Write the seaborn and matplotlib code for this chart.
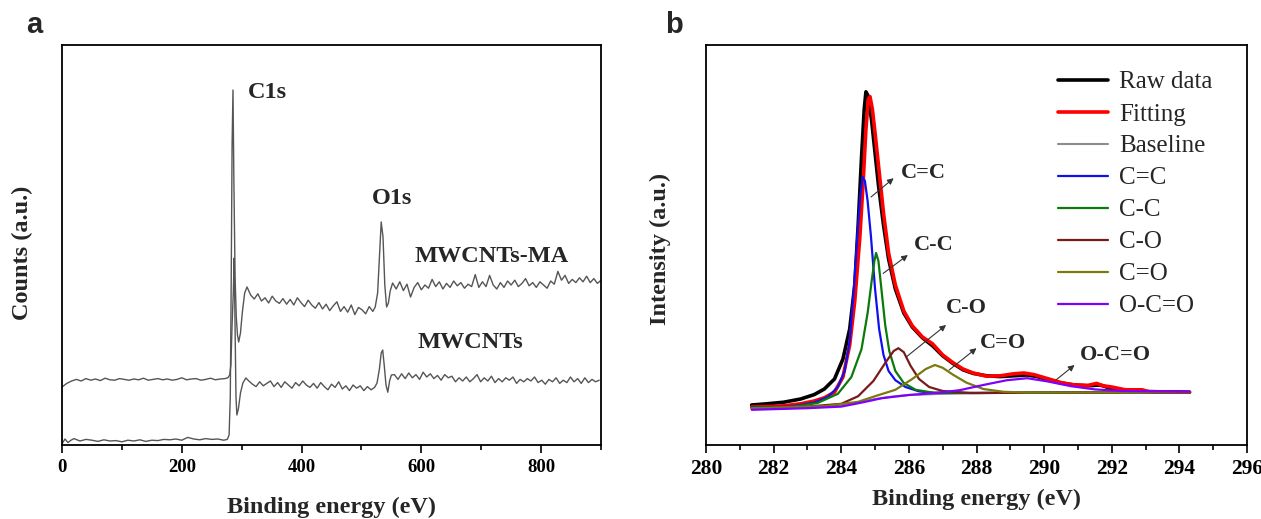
import numpy as np
import seaborn as sns
import matplotlib.pyplot as plt

# ---- panel a: survey spectra (y in arbitrary units, 0-100) ----
ma_flat_x = [0, 5, 10, 15, 20, 30, 40, 50, 60, 70, 80, 90, 100, 110, 120, 130, 140, 150,
             160, 170, 180, 190, 200, 210, 220, 230, 240, 250, 260, 270]
ma_flat_y = [0.3, 1.5, 0.6, 1.2, 1.6, 1.0, 1.4, 1.2, 0.9, 1.3, 1.0, 1.1, 0.8, 1.2, 1.0, 1.3,
             0.9, 1.2, 1.1, 1.4, 1.3, 1.5, 1.2, 1.9, 1.5, 1.3, 1.6, 1.4, 1.5, 1.2]
ma_c1s_x = [276, 279, 281, 282.5, 284, 285.5, 287, 289, 291, 293, 295, 298, 301, 305, 309]
ma_c1s_y = [1.4, 2.5, 12, 40, 75, 88.75, 66, 42, 32, 27.5, 25.75, 28, 33, 38, 39.5]
ma_noise1_y = [37.5, 36.5, 37.8, 36.0, 36.8, 35.5, 37.2, 36.0, 35.4, 36.6, 35.2, 36.4, 35.0,
               36.8, 35.6, 34.6, 36.2, 35.0, 34.2, 35.6, 34.0, 35.2, 33.6, 34.8, 35.8, 33.4,
               34.6, 33.2, 35.0, 32.6, 34.4, 33.8, 32.8, 34.6, 33.4]
ma_o1s_x = [523, 527, 530, 533, 536, 539, 542, 545, 548]
ma_o1s_y = [34.5, 38, 47, 55.75, 52, 40, 34.5, 35.5, 38.5]
ma_noise2_y = [40.5, 39.0, 40.8, 38.6, 40.2, 37.0, 39.4, 40.6, 38.8,
               40.0, 39.2, 41.4, 39.6, 40.8, 39.0, 40.4, 39.4, 41.0, 39.8,
               40.6, 39.2, 40.2, 39.6, 42.6, 39.4, 40.8, 39.6, 42.4, 40.0,
               39.0, 40.6, 39.4, 41.0, 40.0, 41.2, 39.6, 40.4, 41.6, 39.8,
               40.6, 39.4, 40.8, 40.0, 39.2, 41.0, 40.2, 43.4, 41.2, 42.4,
               40.4, 41.4, 40.6, 41.8, 40.8, 42.2, 40.6, 41.6, 40.4, 41.2]

cn_flat_y = [14.5, 15.4, 16.0, 16.4, 16.0, 16.6, 16.2, 16.5, 16.1, 16.7, 16.3, 16.2, 16.6,
             16.4, 16.2, 16.5, 16.3, 16.7, 16.2, 16.4, 16.6, 16.3, 16.5, 16.2, 16.4, 16.8,
             16.3, 16.5, 16.6, 16.2, 16.4, 16.7, 16.3, 16.5, 16.6]
cn_c1s_x = [277, 280, 282, 284, 286, 287.5, 289, 290.5, 292, 294.5, 298, 302, 307]
cn_c1s_y = [16.8, 17.5, 20, 30, 38, 46.75, 30, 12, 7.5, 9, 13, 15.5, 16.75]
cn_noise1_y = [16.0, 15.2, 14.6, 15.8, 14.8, 15.4, 16.0, 14.6, 15.6, 14.4,
               15.8, 15.0, 14.2, 15.6, 14.8, 16.0, 15.0, 14.4, 15.4, 14.2,
               15.6, 14.6, 13.8, 15.2, 14.4, 15.8, 14.0, 14.8, 13.6, 15.0,
               14.2, 14.8, 13.6, 14.6, 13.8, 14.4]
cn_o1s_x = [526, 530, 533, 535.5, 538, 541, 544, 547, 550]
cn_o1s_y = [15.5, 19, 23.0, 23.75, 20, 15, 13.2, 16, 17.5]
cn_noise2_y = [17.6, 16.4, 17.8, 16.6, 18.0, 16.8, 17.6, 16.4, 18.2, 17.0,
               17.8, 16.6, 17.4, 16.2, 17.6, 16.8, 17.2, 15.8, 16.8, 16.0,
               17.0, 15.8, 16.6, 17.6, 15.8, 16.8, 16.0, 17.2, 15.6, 16.6,
               15.8, 16.8, 16.2, 17.0, 15.4, 16.4, 15.8, 16.6, 16.0, 17.0,
               15.6, 16.2, 15.2, 16.4, 15.8, 16.8, 15.4, 16.2, 15.6, 17.0,
               15.8, 16.6, 15.4, 16.8, 15.6, 16.4, 15.8, 16.2]

# ---- panel b: C1s high resolution ----
raw_x = [281.35, 281.8, 282.3, 282.8, 283.2, 283.5, 283.8, 284.05, 284.25, 284.4, 284.5,
         284.6, 284.68, 284.73, 284.8, 284.9, 285.0, 285.1, 285.25, 285.4, 285.6, 285.85,
         286.1, 286.4, 286.7, 287.0, 287.3, 287.6, 287.9, 288.3, 288.7, 289.1, 289.5,
         289.8, 290.1, 290.5, 290.9, 291.3, 291.65, 292.0, 292.4, 292.9, 293.4, 293.9, 294.3]
raw_y = [10.0, 10.3, 10.7, 11.5, 12.6, 14.0, 16.5, 21.5, 29, 40, 55, 72, 84, 88.3, 87.2,
         81, 73, 65, 55, 46.5, 39, 33, 29.5, 26.8, 24.8, 22.3, 20.4, 18.8, 17.9, 17.3,
         17.1, 17.3, 17.5, 17.1, 16.3, 15.5, 15.0, 14.8, 15.0, 14.1, 13.7, 13.4, 13.3,
         13.3, 13.2]
fit_x = [281.35, 281.8, 282.3, 282.8, 283.2, 283.5, 283.8, 284.05, 284.25, 284.4, 284.55,
         284.65, 284.73, 284.8, 284.85, 284.92, 285.0, 285.1, 285.25, 285.4, 285.6, 285.85,
         286.1, 286.4, 286.7, 287.0, 287.3, 287.6, 287.9, 288.3, 288.7, 289.1, 289.4,
         289.7, 290.1, 290.5, 290.9, 291.3, 291.55, 291.75, 292.0, 292.4, 292.9, 293.1,
         293.9, 294.3]
fit_y = [9.5, 9.6, 9.8, 10.3, 11.0, 11.8, 13.2, 17, 25, 36, 52, 66, 79, 86.5, 87.1, 84,
         78, 70, 58, 48, 40, 33.5, 29.8, 27.0, 25.3, 22.5, 20.6, 19.0, 18.0, 17.2, 17.3,
         17.8, 18.0, 17.6, 16.6, 15.6, 15.0, 14.9, 15.4, 14.8, 14.5, 13.8, 13.8, 13.3,
         13.2, 13.2]
base_x = [281.35, 282.5, 283.5, 284.2, 284.6, 285.0, 285.5, 286.0, 287.0, 288.0, 290.0,
          292.0, 294.3]
base_y = [9.3, 9.4, 9.7, 10.1, 10.8, 11.5, 12.1, 12.5, 12.8, 13.0, 13.1, 13.2, 13.3]
cc2_x = [281.35, 282.5, 283.2, 283.6, 283.9, 284.1, 284.25, 284.38, 284.48, 284.57, 284.63,
         284.7, 284.78, 284.88, 285.0, 285.12, 285.25, 285.4, 285.6, 285.9, 286.3, 286.8,
         288.0, 294.3]
cc2_y = [9.4, 9.6, 10.6, 12.0, 14.5, 18.5, 26, 40, 53, 63, 67, 66, 61, 52, 39, 29, 22.5,
         18.5, 16.2, 14.5, 13.4, 13.0, 13.0, 13.3]
cc1_x = [281.35, 282.5, 283.3, 283.9, 284.3, 284.6, 284.78, 284.9, 284.98, 285.03, 285.1,
         285.2, 285.3, 285.42, 285.6, 285.85, 286.2, 286.7, 288.0, 294.3]
cc1_y = [9.3, 9.5, 10.5, 12.8, 17, 24, 33, 41, 46, 48, 46, 38, 30, 23.5, 18.5, 15.5, 13.8,
         13.1, 13.0, 13.2]
co1_x = [281.35, 283.0, 284.0, 284.5, 284.95, 285.3, 285.55, 285.69, 285.85, 286.05, 286.3,
         286.6, 287.0, 287.8, 294.3]
co1_y = [9.2, 9.6, 10.3, 12.2, 16.0, 20.5, 23.5, 24.2, 23.2, 19.8, 16.5, 14.5, 13.5, 13.0,
         13.2]
co2_x = [281.35, 283.5, 284.5, 285.0, 285.6, 286.1, 286.5, 286.77, 287.0, 287.3, 287.7,
         288.2, 288.8, 289.5, 294.3]
co2_y = [9.2, 9.7, 10.8, 12.2, 13.8, 16.5, 19.0, 20.0, 19.3, 17.6, 15.6, 14.0, 13.3, 13.1,
         13.2]
oco_x = [281.35, 283.0, 284.0, 284.6, 285.2, 286.0, 286.8, 287.5, 288.2, 288.9, 289.5,
         290.1, 290.8, 291.5, 292.3, 294.3]
oco_y = [8.8, 9.2, 9.6, 10.6, 11.7, 12.5, 13.0, 13.7, 15.0, 16.2, 16.7, 15.9, 14.7, 13.9,
         13.5, 13.3]

# assemble the survey spectra: noisy stretches are sampled every 6 eV
ma_x = (ma_flat_x + ma_c1s_x + list(315 + 6 * np.arange(len(ma_noise1_y)))
        + ma_o1s_x + list(552 + 6 * np.arange(len(ma_noise2_y))))
ma_y = ma_flat_y + ma_c1s_y + ma_noise1_y + ma_o1s_y + ma_noise2_y
cn_x = (list(8 * np.arange(len(cn_flat_y))) + cn_c1s_x
        + list(312 + 6 * np.arange(len(cn_noise1_y))) + cn_o1s_x
        + list(555 + 6 * np.arange(len(cn_noise2_y))))
cn_y = cn_flat_y + cn_c1s_y + cn_noise1_y + cn_o1s_y + cn_noise2_y

sns.set_style('ticks')
plt.rcParams['font.family'] = ['Liberation Serif', 'DejaVu Serif']
plt.rcParams['axes.linewidth'] = 1.3

fig = plt.figure(figsize=(12.61, 5.19), dpi=100)
W, H = 1261, 519
ax1 = fig.add_axes([62 / W, 74 / H, 539 / W, 400 / H])
ax2 = fig.add_axes([706 / W, 74 / H, 541 / W, 400 / H])

# panel a
sns.lineplot(x=ma_x, y=ma_y, ax=ax1, color='#555555', linewidth=1.0, sort=False)
sns.lineplot(x=cn_x, y=cn_y, ax=ax1, color='#555555', linewidth=1.0, sort=False)
ax1.set_xlim(0, 900)
ax1.set_ylim(0, 100)
ax1.set_xticks([0, 200, 400, 600, 800])
ax1.set_xticks([100, 300, 500, 700, 900], minor=True)
ax1.set_yticks([])
lab_font = dict(fontsize=17.5, fontweight='bold')
ax1.text(310, 88.25, 'C1s', va='center', **lab_font)
ax1.text(517, 61.75, 'O1s', va='center', **lab_font)
ax1.text(588, 47, 'MWCNTs-MA', va='center', **lab_font)
ax1.text(594, 25.5, 'MWCNTs', va='center', **lab_font)
ax1.set_xlabel('Binding energy (eV)', fontsize=17.5, fontweight='bold', labelpad=15)
ax1.set_ylabel('Counts (a.u.)', fontsize=17.5, fontweight='bold')
ax1.yaxis.set_label_coords(-0.054, 0.48)

# panel b
series = [
    (raw_x, raw_y, 'Raw data', 'black', 2.6),
    (fit_x, fit_y, 'Fitting', '#ff0000', 2.6),
    (base_x, base_y, 'Baseline', '#8c8c8c', 1.5),
    (cc2_x, cc2_y, 'C=C', '#1010ee', 1.6),
    (cc1_x, cc1_y, 'C-C', '#0a7a0a', 1.6),
    (co1_x, co1_y, 'C-O', '#7a1a1a', 1.6),
    (co2_x, co2_y, 'C=O', '#7a7a10', 1.6),
    (oco_x, oco_y, 'O-C=O', '#8000ff', 1.6),
]
for xs, ys, name, col, lw in series:
    sns.lineplot(x=xs, y=ys, ax=ax2, color=col, linewidth=lw, label=name, sort=False)
ax2.set_xlim(280, 296)
ax2.set_ylim(0, 100)
ax2.set_xticks(np.arange(280, 297, 2))
ax2.set_xticks(np.arange(281, 296, 2), minor=True)
ax2.set_yticks([])
ax2.set_xlabel('Binding energy (eV)', fontsize=17.5, fontweight='bold', labelpad=7)
ax2.set_ylabel('Intensity (a.u.)', fontsize=17.5, fontweight='bold')
ax2.yaxis.set_label_coords(-0.065, 0.49)

# peak labels with arrows: (text, text anchor, arrow tail, arrow head)
peak_notes = [
    ('C=C', (285.75, 68), (284.88, 62), (285.55, 66.7)),
    ('C-C', (286.15, 50), (285.24, 42.9), (285.97, 47.5)),
    ('C-O', (287.1, 34.2), (285.92, 22), (287.1, 30)),
    ('C=O', (288.1, 25.4), (287.19, 18.75), (288.0, 24.2)),
    ('O-C=O', (291.05, 22.5), (290.35, 16.25), (290.9, 20)),
]
for txt, tpos, tail, head in peak_notes:
    ax2.annotate('', xy=head, xytext=tail,
                 arrowprops=dict(arrowstyle='-|>', color='#333333', lw=0.8,
                                 mutation_scale=9, shrinkA=0, shrinkB=0))
    ax2.text(tpos[0], tpos[1], txt, va='center', fontsize=16, fontweight='bold')

ax2.legend(loc='upper left', bbox_to_anchor=(1058 / W, 1 - 71 / H),
           bbox_transform=fig.transFigure, frameon=False, fontsize=18,
           handlelength=2.0, handletextpad=0.45, labelspacing=0.38,
           borderpad=0, borderaxespad=0)

for ax, lsize in ((ax1, 13.5), (ax2, 15.5)):
    for sp in ax.spines.values():
        sp.set_visible(True)
        sp.set_linewidth(1.3)
        sp.set_color('black')
    ax.tick_params(axis='x', which='major', direction='out', length=6, width=1.2,
                   labelsize=lsize, pad=4, colors='black')
    ax.tick_params(axis='x', which='minor', direction='out', length=3.5, width=1.2,
                   colors='black')
    for t in ax.get_xticklabels():
        t.set_fontweight('bold')

fig.text(26 / W, 1 - 33 / H, 'a', fontsize=21, fontweight='bold',
         family=['Liberation Sans', 'DejaVu Sans'], va='baseline')
fig.text(665 / W, 1 - 33 / H, 'b', fontsize=21, fontweight='bold',
         family=['Liberation Sans', 'DejaVu Sans'], va='baseline')

fig.savefig('out.png', dpi=100, facecolor='white')
